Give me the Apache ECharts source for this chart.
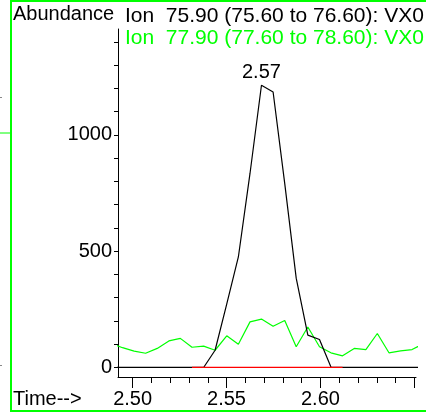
<!DOCTYPE html>
<html>
<head>
<meta charset="utf-8">
<script src="https://cdn.jsdelivr.net/npm/echarts@6/dist/echarts.min.js"></script>
<style>
  html, body { margin: 0; padding: 0; background: #fff; }
  #main { width: 426px; height: 413px; }
</style>
</head>
<body>
<div id="main"></div>
<script>
// scan times (min)
var times = [2.4884, 2.4946, 2.5008, 2.5069, 2.5131, 2.5193, 2.5254, 2.5316,
  2.5378, 2.5439, 2.5501, 2.5563, 2.5625, 2.5686, 2.5748, 2.5810, 2.5871,
  2.5933, 2.5995, 2.6056, 2.6118, 2.6180, 2.6242, 2.6303, 2.6365, 2.6427,
  2.6488, 2.6550];
// Ion 75.90
var ion759 = [0, 0, 0, 0, 0, 0, 0, 0,
  0, 74, 272, 475, 834, 1213, 1184, 790, 384,
  139, 120, 2, 0, 0, 0, 0, 0, 0,
  0, 0];
// Ion 77.90
var ion779 = [104, 85, 70, 61, 82, 114, 125, 87,
  92, 74, 136, 100, 196, 208, 177, 202, 89,
  174, 89, 63, 50, 82, 77, 146, 63, 71,
  77, 103];
// integration baseline
var baseStart = 2.5316, baseEnd = 2.6118;
var peakIdx = 13, peakLabel = '2.57';

var xMajor = [2.50, 2.55, 2.60, 2.65];
var xMinor = [2.50, 2.51, 2.52, 2.53, 2.54, 2.55, 2.56, 2.57, 2.58, 2.59, 2.60, 2.61, 2.62, 2.63, 2.64, 2.65];
var xLabels = [2.50, 2.55, 2.60];
var yTicks = [0, 100, 200, 300, 400, 500, 600, 700, 800, 900, 1000, 1100, 1200, 1300, 1400];
var yLabels = [0, 500, 1000];

var FONT = 'Liberation Sans, Arial, sans-serif';
var GREEN = '#00ff00';

function pairs(vals) {
  var out = [];
  for (var i = 0; i < times.length; i++) {
    out.push([times[i], vals[i]]);
  }
  return out;
}

var myChart = echarts.init(document.getElementById('main'), null, { renderer: 'canvas' });

var option = {
  animation: false,
  backgroundColor: '#fff',
  grid: { left: 118, right: 10, top: 29, bottom: 36 },
  xAxis: [{
    type: 'value', min: 2.4922, max: 2.6509, position: 'bottom',
    axisLine: { onZero: false, lineStyle: { color: '#000', width: 1 } },
    axisTick: { length: 11, lineStyle: { color: '#000' }, customValues: xMajor },
    axisLabel: {
      customValues: xLabels, margin: 12, color: '#000', fontSize: 20, fontFamily: FONT,
      formatter: function (v) { return v.toFixed(2); }
    },
    splitLine: { show: false }
  }, {
    type: 'value', min: 2.4922, max: 2.6509, position: 'bottom',
    axisLine: { show: false, onZero: false },
    axisTick: { length: 6, lineStyle: { color: '#000' }, customValues: xMinor },
    axisLabel: { show: false },
    splitLine: { show: false }
  }],
  yAxis: {
    type: 'value', min: -41, max: 1455,
    axisLine: { show: true, onZero: false, lineStyle: { color: '#000', width: 1 } },
    axisTick: { show: true, length: 4, lineStyle: { color: '#000' }, customValues: yTicks },
    axisLabel: {
      customValues: yLabels, margin: 6, color: '#000', fontSize: 20, fontFamily: FONT,
      formatter: function (v) { return String(v); }
    },
    splitLine: { show: false }
  },
  series: [{
    name: 'Ion 77.90',
    type: 'line',
    data: pairs(ion779),
    showSymbol: false, symbol: 'none',
    lineStyle: { color: GREEN, width: 1.2 },
    z: 2
  }, {
    name: 'Ion 75.90',
    type: 'line',
    data: pairs(ion759),
    showSymbol: false, symbol: 'none',
    lineStyle: { color: '#000', width: 1.2 },
    markPoint: {
      symbol: 'circle', symbolSize: 0,
      itemStyle: { color: 'rgba(0,0,0,0)' },
      label: { show: true, position: 'top', distance: 3, formatter: peakLabel, color: '#000', fontSize: 20, fontFamily: FONT },
      data: [{ coord: [times[peakIdx], ion759[peakIdx]] }]
    },
    z: 3
  }, {
    name: 'baseline',
    type: 'line',
    data: [[baseStart, 0], [baseEnd, 0]],
    showSymbol: false, symbol: 'none',
    lineStyle: { color: '#ff0000', width: 1.3 },
    z: 4
  }],
  graphic: [
    { type: 'rect', shape: { x: 11, y: 1, width: 430, height: 410 }, style: { fill: 'none', stroke: GREEN, lineWidth: 2 }, silent: true },
    { type: 'line', shape: { x1: 0, y1: 133, x2: 11, y2: 133 }, style: { stroke: GREEN, lineWidth: 1 } },
    { type: 'line', shape: { x1: 0, y1: 97.5, x2: 2, y2: 97.5 }, style: { stroke: '#888', lineWidth: 1 } },
    { type: 'line', shape: { x1: 0, y1: 365.5, x2: 2, y2: 365.5 }, style: { stroke: '#888', lineWidth: 1 } },
    { type: 'text', x: 13, y: 14, style: { text: 'Abundance', fill: '#000', font: '20px ' + FONT, textVerticalAlign: 'middle' } },
    { type: 'text', x: 125, y: 16.5, style: { text: 'Ion  75.90 (75.60 to 76.60): VX0', fill: '#000', font: '21px ' + FONT, textVerticalAlign: 'middle' } },
    { type: 'text', x: 125, y: 38.5, style: { text: 'Ion  77.90 (77.60 to 78.60): VX0', fill: GREEN, font: '21px ' + FONT, textVerticalAlign: 'middle' } },
    { type: 'text', x: 13, y: 399, style: { text: 'Time-->', fill: '#000', font: '20px ' + FONT, textVerticalAlign: 'middle' } }
  ]
};

myChart.setOption(option);
</script>
</body>
</html>
